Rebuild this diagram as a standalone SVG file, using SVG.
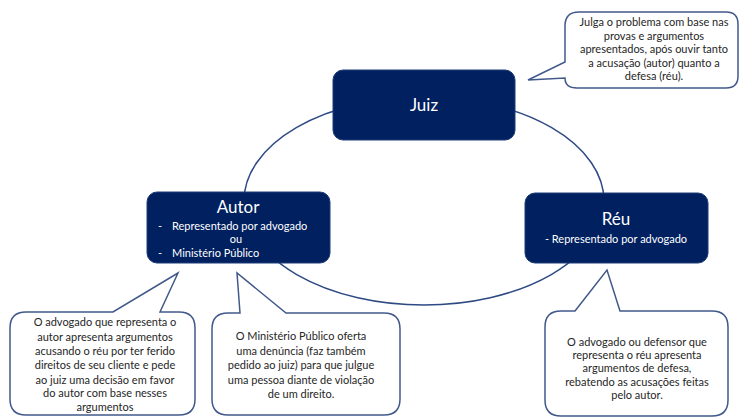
<svg xmlns="http://www.w3.org/2000/svg" width="740" height="420" viewBox="0 0 740 420">
<style>
.box{fill:#002060;stroke:#1f3c78;stroke-width:1}
.title{font-family:Lato,"Liberation Sans",sans-serif;font-size:17px;fill:#ffffff}
.sub{font-family:Lato,"Liberation Sans",sans-serif;font-size:11px;fill:#ffffff}
.callout{fill:#ffffff;stroke:#41598a;stroke-width:1.5;stroke-linejoin:miter}
.ct{font-family:Lato,"Liberation Sans",sans-serif;font-size:11px;fill:#262626;text-anchor:middle}
.link{fill:none;stroke:#2e4a84;stroke-width:1.5}
</style>
<rect width="740" height="420" fill="#ffffff"/>
<g id="connectors">
<ellipse class="link" cx="424" cy="201" rx="180" ry="104"/>
</g>
<g id="juiz">
<rect class="box" x="333" y="70" width="182" height="70" rx="10"/>
<text class="title" x="424" y="111" text-anchor="middle">Juiz</text>
</g>
<g id="autor">
<rect class="box" x="147" y="192" width="183" height="71" rx="10"/>
<text class="title" x="238" y="213" text-anchor="middle">Autor</text>
<text class="sub" x="158" y="230">-</text>
<text class="sub" x="172" y="230">Representado por advogado</text>
<text class="sub" x="236" y="243" text-anchor="middle">ou</text>
<text class="sub" x="158" y="257">-</text>
<text class="sub" x="172" y="257">Ministério Público</text>
</g>
<g id="reu">
<rect class="box" x="525" y="193" width="183" height="70" rx="10"/>
<text class="title" x="616" y="225" text-anchor="middle">Réu</text>
<text class="sub" x="616" y="243" text-anchor="middle">- Representado por advogado</text>
</g>
<g id="callout-juiz">
<path class="callout" d="M579,12 H726 Q738,12 738,24 V76 Q738,88 726,88 H577 Q565,88 565,78 L528,80 L565,62 V26 Q565,12 579,12 Z"/>
<text class="ct" x="654" y="26">Julga o problema com base nas</text>
<text class="ct" x="654" y="40">provas e argumentos</text>
<text class="ct" x="654" y="53">apresentados, após ouvir tanto</text>
<text class="ct" x="654" y="67">a acusação (autor) quanto a</text>
<text class="ct" x="654" y="80">defesa (réu).</text>
</g>
<g id="callout-autor">
<path class="callout" d="M26,312 H113 L178,273 L160,312 H179 Q195,312 195,328 V399 Q195,415 179,415 H26 Q10,415 10,399 V328 Q10,312 26,312 Z"/>
<text class="ct" x="105" y="326">O advogado que representa o</text>
<text class="ct" x="105" y="341">autor apresenta argumentos</text>
<text class="ct" x="105" y="355">acusando o réu por ter ferido</text>
<text class="ct" x="105" y="369">direitos de seu cliente e pede</text>
<text class="ct" x="105" y="384">ao juiz uma decisão em favor</text>
<text class="ct" x="105" y="397">do autor com base nesses</text>
<text class="ct" x="105" y="411">argumentos</text>
</g>
<g id="callout-mp">
<path class="callout" d="M228,313 H240 L237,273 L286,313 H384 Q400,313 400,329 V399 Q400,415 384,415 H228 Q212,415 212,399 V329 Q212,313 228,313 Z"/>
<text class="ct" x="301" y="340">O Ministério Público oferta</text>
<text class="ct" x="301" y="355">uma denúncia (faz também</text>
<text class="ct" x="301" y="369">pedido ao juiz) para que julgue</text>
<text class="ct" x="301" y="384">uma pessoa diante de violação</text>
<text class="ct" x="301" y="398">de um direito.</text>
</g>
<g id="callout-reu">
<path class="callout" d="M561,311 H575 L607,270 L620,311 H712 Q728,311 728,327 V400 Q728,416 712,416 H561 Q545,416 545,400 V327 Q545,311 561,311 Z"/>
<text class="ct" x="637" y="346">O advogado ou defensor que</text>
<text class="ct" x="637" y="359">representa o réu apresenta</text>
<text class="ct" x="637" y="372">argumentos de defesa,</text>
<text class="ct" x="637" y="386">rebatendo as acusações feitas</text>
<text class="ct" x="637" y="399">pelo autor.</text>
</g>
</svg>
